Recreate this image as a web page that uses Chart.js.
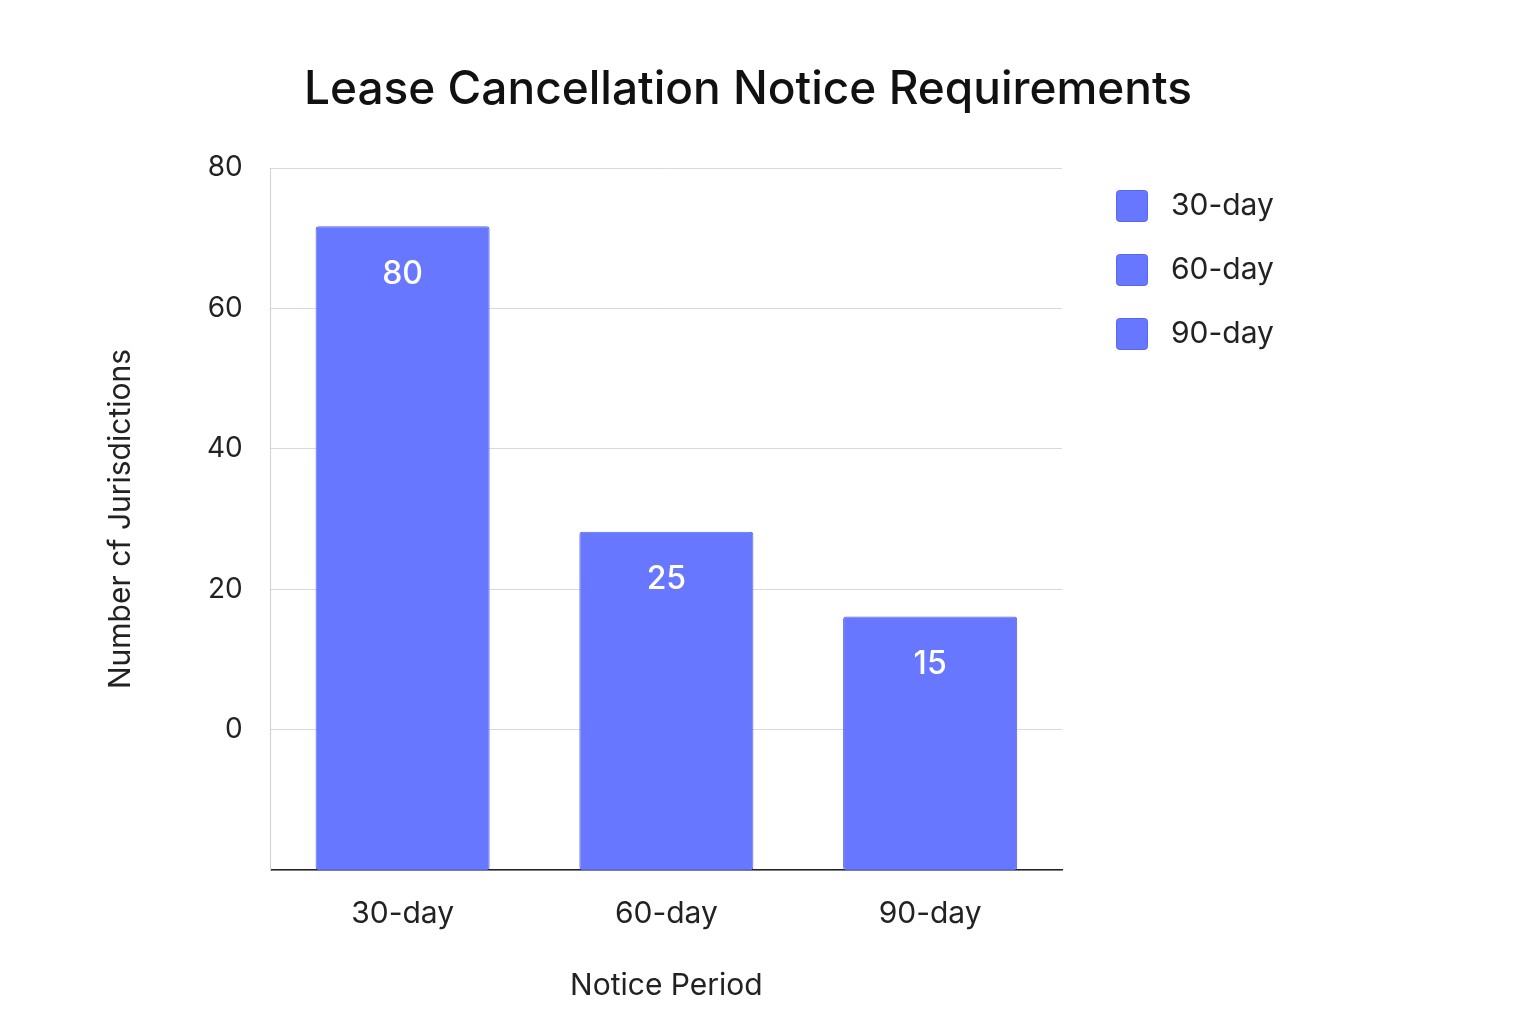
<!DOCTYPE html>
<html>
<head>
<meta charset="utf-8">
<script src="https://cdn.jsdelivr.net/npm/chart.js@4"></script>
<style>
  html, body { margin: 0; padding: 0; background: #fff; }
  #wrap { width: 1536px; height: 1024px; }
</style>
</head>
<body>
<div id="wrap"><canvas id="c" width="1536" height="1024"></canvas></div>
<script>
// ---------- data ----------
const categories = ['30-day', '60-day', '90-day'];
const barTops = [71.7, 28.2, 16.1];      // bar heights as drawn on the axis
const barLabels = ['80', '25', '15'];    // labels printed inside the bars
const axisMin = -20;
const axisMax = 80;
const titleText = 'Lease Cancellation Notice Requirements';

const barColor = '#6877FF';
const font = 'Inter, "Noto Sans", sans-serif';

// ---- title, legend and labels inside bars ----
const decorPlugin = {
  id: 'decor',
  afterDatasetsDraw(chart) {
    const ctx = chart.ctx;
    const meta = chart.getDatasetMeta(0);
    ctx.save();
    ctx.fillStyle = '#ffffff';
    ctx.font = '500 32px ' + font;
    ctx.textAlign = 'center';
    ctx.textBaseline = 'middle';
    meta.data.forEach((bar, i) => {
      const top = Math.min(bar.y, bar.base);
      ctx.fillText(barLabels[i], bar.x, top + 48);
    });

    // title
    ctx.fillStyle = '#111';
    ctx.font = '500 46px ' + font;
    ctx.fillText(titleText, 748, 90);

    // legend
    ctx.textAlign = 'left';
    ctx.font = '30px ' + font;
    categories.forEach((c, i) => {
      const y = 206 + i * 64;
      ctx.fillStyle = barColor;
      ctx.strokeStyle = '#5866e8';
      ctx.beginPath();
      ctx.roundRect(1116.5, y - 15.5, 31, 31, 3);
      ctx.fill();
      ctx.stroke();
      ctx.fillStyle = '#222';
      ctx.fillText(c, 1171, y);
    });
    ctx.restore();
  }
};

new Chart(document.getElementById('c'), {
  type: 'bar',
  data: {
    labels: categories,
    datasets: [{
      data: barTops.map(v => [axisMin, v]),
      backgroundColor: barColor,
      borderColor: '#5866e8',
      borderWidth: 1,
      borderRadius: 3,
      borderSkipped: false,
      barPercentage: 0.66,
      categoryPercentage: 1
    }]
  },
  options: {
    responsive: false,
    animation: false,
    layout: { padding: { left: 99, right: 474, top: 168, bottom: 16 } },
    plugins: {
      legend: { display: false },
      tooltip: { enabled: false }
    },
    scales: {
      x: {
        grid: { display: false },
        border: { color: '#222', width: 1.5 },
        ticks: { color: '#222', font: { family: font, size: 30 }, padding: 18 },
        title: { display: true, text: 'Notice Period', color: '#222',
                 font: { family: font, size: 30 }, padding: { top: 18 } }
      },
      y: {
        min: axisMin,
        max: axisMax,
        ticks: {
          stepSize: 20,
          color: '#222',
          font: { family: font, size: 28 },
          padding: 28,
          callback: v => (v < 0 ? '' : v)
        },
        grid: { color: '#d6d8ea', drawTicks: false },
        border: { color: '#cfcfd8' },
        title: { display: true, text: 'Number cf Jurisdictions', color: '#222',
                 font: { family: font, size: 30 }, padding: { bottom: 40 } }
      }
    }
  },
  plugins: [decorPlugin]
});
</script>
</body>
</html>
